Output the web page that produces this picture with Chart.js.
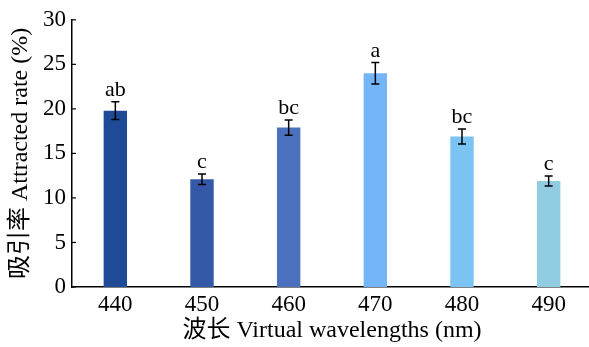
<!DOCTYPE html>
<html>
<head>
<meta charset="utf-8">
<script src="https://cdn.jsdelivr.net/npm/chart.js@4"></script>
<style>
  html, body { margin: 0; padding: 0; background: #fff; overflow: hidden; }
  #wrap { width: 589px; height: 347px; overflow: hidden; }
</style>
</head>
<body>
<div id="wrap"><canvas id="c" width="592" height="347"></canvas></div>
<script>
const categories = ['440', '450', '460', '470', '480', '490'];
const values = [19.8, 12.1, 17.9, 24.0, 16.9, 11.9];
const errors = [1.0, 0.6, 0.85, 1.2, 0.85, 0.55];
const letters = ['ab', 'c', 'bc', 'a', 'bc', 'c'];
const barColors = ['#1F4A97', '#3459A8', '#4A70BE', '#74B5F9', '#7BC3F3', '#91CCE2'];
const yTicks = [0, 5, 10, 15, 20, 25, 30];

const FONT = "'Liberation Serif', 'Times New Roman', 'Noto Sans CJK SC', serif";

const overlay = {
  id: 'overlay',
  afterDatasetsDraw(chart) {
    const ctx = chart.ctx;
    const x = chart.scales.x, y = chart.scales.y;
    const meta = chart.getDatasetMeta(0);
    ctx.save();
    ctx.strokeStyle = '#000';
    ctx.lineWidth = 1.5;
    meta.data.forEach((bar, i) => {
      const cx = bar.x;
      const top = y.getPixelForValue(values[i] + errors[i]);
      const bot = y.getPixelForValue(values[i] - errors[i]);
      const cap = 4;
      ctx.beginPath();
      ctx.moveTo(cx, top); ctx.lineTo(cx, bot);
      ctx.moveTo(cx - cap, top); ctx.lineTo(cx + cap, top);
      ctx.moveTo(cx - cap, bot); ctx.lineTo(cx + cap, bot);
      ctx.stroke();
      ctx.fillStyle = '#000';
      ctx.font = '22px ' + FONT;
      ctx.textAlign = 'center';
      ctx.textBaseline = 'alphabetic';
      ctx.fillText(letters[i], cx, top - 6);
    });
    // inward y ticks
    ctx.lineWidth = 1.2;
    yTicks.forEach(v => {
      const py = y.getPixelForValue(v);
      ctx.beginPath();
      ctx.moveTo(x.left, py); ctx.lineTo(x.left + 4, py);
      ctx.stroke();
    });
    ctx.restore();
  }
};

new Chart(document.getElementById('c'), {
  type: 'bar',
  data: {
    labels: categories,
    datasets: [{
      data: values,
      backgroundColor: barColors,
      borderWidth: 0,
      barPercentage: 0.27,
      categoryPercentage: 1.0
    }]
  },
  options: {
    responsive: false,
    animation: false,
    events: [],
    layout: { padding: { top: 16, right: 0, left: 0, bottom: 0 } },
    plugins: { legend: { display: false }, tooltip: { enabled: false } },
    scales: {
      x: {
        grid: { display: false, drawTicks: false },
        border: { color: '#000', width: 1.5 },
        ticks: { color: '#000', font: { family: FONT, size: 23 }, padding: 4, maxRotation: 0 },
        title: {
          display: true,
          text: '波长 Virtual wavelengths (nm)',
          color: '#000',
          font: { family: FONT, size: 24 },
          padding: { top: 0, bottom: 2 }
        },
        afterFit(s) { s.height = 60; }
      },
      y: {
        min: 0, max: 30,
        grid: { display: false, drawTicks: false },
        border: { color: '#000', width: 1.5 },
        ticks: { stepSize: 5, color: '#000', font: { family: FONT, size: 23 }, padding: 6 },
        title: {
          display: true,
          text: '吸引率 Attracted rate (%)',
          color: '#000',
          font: { family: FONT, size: 24 },
          padding: { top: 6, bottom: 0 }
        },
        afterFit(s) { s.width = 72; }
      }
    }
  },
  plugins: [overlay]
});
</script>
</body>
</html>
